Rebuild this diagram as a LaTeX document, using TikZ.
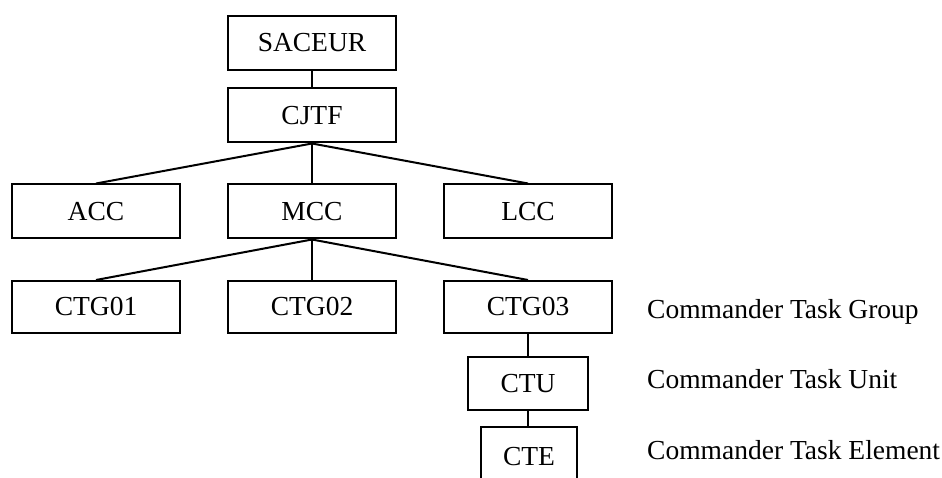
\documentclass[tikz,border=0pt]{standalone}
\usepackage{fontspec}
\setmainfont{Liberation Serif}
\begin{document}
\begin{tikzpicture}[x=1pt,y=-1pt,
  every node/.style={font=\fontsize{27.5}{33}\selectfont, inner sep=0pt, text height=18pt, text depth=0pt},
  unit/.style={draw, line width=2pt, minimum width=168pt, minimum height=54pt},
  link/.style={line width=2pt},
  tag/.style={anchor=base west}]
\useasboundingbox (0,0) rectangle (942,478);
\clip (0,0) rectangle (942,478);

% command chain
\node[unit] (saceur) at (312,43) {SACEUR};
\node[unit] (cjtf)   at (312,115.5) {CJTF};

% component commands
\node[unit] (acc) at (96,211.5)  {ACC};
\node[unit] (mcc) at (312,211.5) {MCC};
\node[unit] (lcc) at (528,211.5) {LCC};

% task groups
\node[unit, minimum height=52pt] (ctg1) at (96,307)  {CTG01};
\node[unit, minimum height=52pt] (ctg2) at (312,307) {CTG02};
\node[unit, minimum height=52pt] (ctg3) at (528,307) {CTG03};

% task unit and element
\node[unit, minimum width=120pt, minimum height=53pt] (ctu) at (528,383.5) {CTU};
\node[unit, minimum width=96pt, minimum height=58pt] (cte) at (529,456) {CTE};

% level descriptions
\node[tag] (lg) at (647,318) {Commander Task Group};
\node[tag] (lu) at (647,388) {Commander Task Unit};
\node[tag] (le) at (647,459) {Commander Task Element};

% connectors
\draw[link] (saceur.south) -- (cjtf.north);
\draw[link] (cjtf.south) -- (acc.north);
\draw[link] (cjtf.south) -- (mcc.north);
\draw[link] (cjtf.south) -- (lcc.north);
\draw[link] (mcc.south) -- (ctg1.north);
\draw[link] (mcc.south) -- (ctg2.north);
\draw[link] (mcc.south) -- (ctg3.north);
\draw[link] (ctg3.south) -- (ctu.north);
\draw[link] (ctu.south) -- (ctu.south |- cte.north);
\end{tikzpicture}
\end{document}
